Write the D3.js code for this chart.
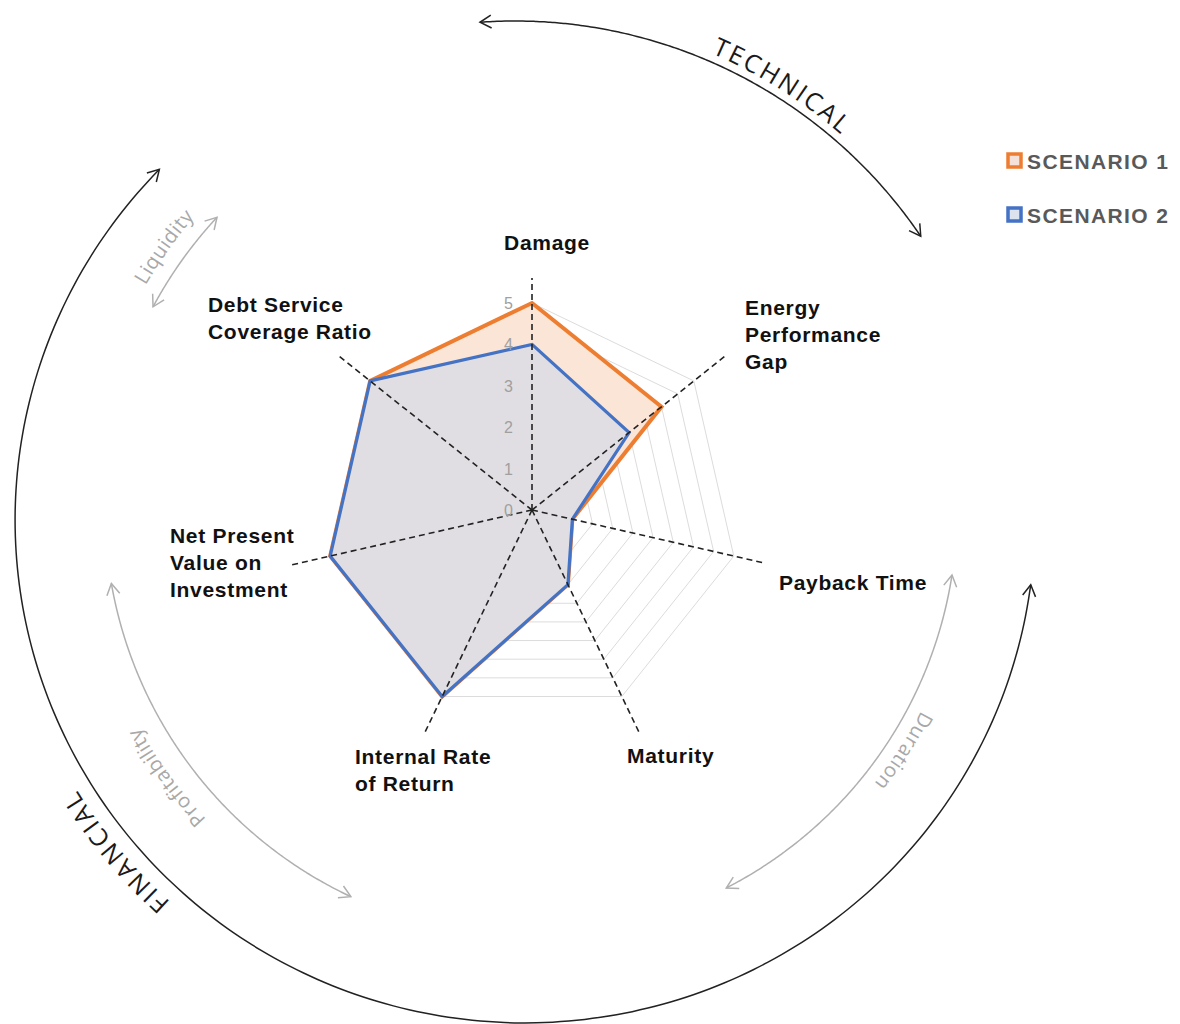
<!DOCTYPE html>
<html>
<head>
<meta charset="utf-8">
<script src="https://cdn.jsdelivr.net/npm/d3@7"></script>
<style>
  html, body { margin: 0; padding: 0; background: #ffffff; }
  svg { display: block; }
</style>
</head>
<body>
<svg id="chart" width="1180" height="1024"></svg>
<script>
// ---- data ----
const categories = [
  "Damage",
  "Energy Performance Gap",
  "Payback Time",
  "Maturity",
  "Internal Rate of Return",
  "Net Present Value on Investment",
  "Debt Service Coverage Ratio"
];
const categoryLines = [
  ["Damage"],
  ["Energy", "Performance", "Gap"],
  ["Payback Time"],
  ["Maturity"],
  ["Internal Rate", "of Return"],
  ["Net Present", "Value on", "Investment"],
  ["Debt Service", "Coverage Ratio"]
];
const scenario1 = [5, 4, 1, 2, 5, 5, 5];
const scenario2 = [4, 3, 1, 2, 5, 5, 5];
const seriesNames = ["SCENARIO 1", "SCENARIO 2"];
const tickValues = [0, 1, 2, 3, 4, 5];
const groupNames = ["TECHNICAL", "FINANCIAL"];
const subGroupNames = ["Liquidity", "Profitability", "Duration"];

// ---- layout ----
const svg = d3.select("#chart");
const cx = 532, cy = 510;
const maxValue = 5;
const r = d3.scaleLinear().domain([0, maxValue]).range([0, 207]);
const angle = d3.scaleLinear().domain([0, categories.length]).range([0, 2 * Math.PI]);
const colors = { s1: "#ED7D31", s2: "#4472C4" };

// polar point, angle measured clockwise from 12 o'clock
function pt(i, v) {
  const a = angle(i);
  return [cx + r(v) * Math.sin(a), cy - r(v) * Math.cos(a)];
}

const g = svg.append("g");

// grid heptagons every half unit
const gridLevels = d3.range(0.5, maxValue + 0.01, 0.5);
const ringLine = d3.line().curve(d3.curveLinearClosed);
g.append("g").selectAll("path")
  .data(gridLevels)
  .join("path")
  .attr("d", lv => ringLine(categories.map((c, i) => pt(i, lv))))
  .attr("fill", "none")
  .attr("stroke", "#dcdcdc")
  .attr("stroke-width", 1);

// series areas
const series = [
  { name: seriesNames[0], values: scenario1, fill: "#FBE5D6", stroke: colors.s1, width: 4 },
  { name: seriesNames[1], values: scenario2, fill: "#E0DEE2", stroke: colors.s2, width: 3.2 }
];
g.append("g").selectAll("path")
  .data(series)
  .join("path")
  .attr("d", s => ringLine(s.values.map((v, i) => pt(i, v))))
  .attr("fill", s => s.fill)
  .attr("stroke", s => s.stroke)
  .attr("stroke-width", s => s.width)
  .attr("stroke-linejoin", "miter");

// dashed spokes
const spokeLen = [232, 250, 236, 248, 246, 246, 248];
g.append("g").selectAll("line")
  .data(categories)
  .join("line")
  .attr("x1", cx).attr("y1", cy)
  .attr("x2", (c, i) => cx + spokeLen[i] * Math.sin(angle(i)))
  .attr("y2", (c, i) => cy - spokeLen[i] * Math.cos(angle(i)))
  .attr("stroke", "#222")
  .attr("stroke-width", 1.6)
  .attr("stroke-dasharray", "6,4");

// radial tick labels
g.append("g").selectAll("text")
  .data(tickValues)
  .join("text")
  .attr("x", cx - 19)
  .attr("y", v => cy - r(v) + 6)
  .attr("text-anchor", "end")
  .attr("font-family", "Liberation Sans, Arial, sans-serif")
  .attr("font-size", 16)
  .attr("fill", "#a0a0a0")
  .text(v => v);

// category labels
const labelPos = [
  { x: 547, y: 250, anchor: "middle" },
  { x: 745, y: 315, anchor: "start" },
  { x: 779, y: 590, anchor: "start" },
  { x: 627, y: 763, anchor: "start" },
  { x: 355, y: 764, anchor: "start" },
  { x: 170, y: 543, anchor: "start" },
  { x: 208, y: 312, anchor: "start" }
];
const labels = g.append("g").selectAll("text")
  .data(categoryLines)
  .join("text")
  .attr("x", (d, i) => labelPos[i].x)
  .attr("y", (d, i) => labelPos[i].y)
  .attr("text-anchor", (d, i) => labelPos[i].anchor)
  .attr("font-family", "Liberation Sans, Arial, sans-serif")
  .attr("font-weight", "bold")
  .attr("font-size", 21)
  .attr("letter-spacing", 0.7)
  .attr("fill", "#111");
labels.selectAll("tspan")
  .data((d, i) => d.map(t => ({ t, i })))
  .join("tspan")
  .attr("x", d => labelPos[d.i].x)
  .attr("dy", (d, k) => k === 0 ? 0 : 27)
  .text(d => d.t);

// ---- legend ----
const legend = svg.append("g").attr("transform", "translate(1008,154)");
const legItems = legend.selectAll("g")
  .data(series)
  .join("g")
  .attr("transform", (d, i) => `translate(0,${i * 54})`);
legItems.append("rect")
  .attr("x", 0).attr("y", 0).attr("width", 13).attr("height", 13)
  .attr("fill", (d, i) => i === 0 ? "#F4E2DA" : "#DCE2EE")
  .attr("stroke", d => d.stroke)
  .attr("stroke-width", 3.5);
legItems.append("text")
  .attr("x", 19).attr("y", 15)
  .attr("font-family", "Liberation Sans, Arial, sans-serif")
  .attr("font-weight", "bold")
  .attr("font-size", 21)
  .attr("letter-spacing", 1.4)
  .attr("fill", "#595959")
  .text(d => d.name);

// ---- surrounding group arcs ----
// elliptical arc sampled as a polyline; angles in degrees clockwise from 12 o'clock
const curve = d3.line().curve(d3.curveBasis);
function arcPoints(ox, oy, rx, ry, t0, t1) {
  const n = 120;
  return d3.range(n + 1).map(k => {
    const t = (t0 + (t1 - t0) * k / n) * Math.PI / 180;
    return [ox + rx * Math.sin(t), oy - ry * Math.cos(t)];
  });
}
// open chevron at the end of an arc, pointing along the travel direction
function arrowD(pts, atEnd) {
  const tip = atEnd ? pts[pts.length - 1] : pts[0];
  const prev = atEnd ? pts[pts.length - 2] : pts[1];
  const back = Math.atan2(prev[1] - tip[1], prev[0] - tip[0]);
  const len = 13, spread = 30 * Math.PI / 180;
  const p1 = [tip[0] + len * Math.cos(back + spread), tip[1] + len * Math.sin(back + spread)];
  const p2 = [tip[0] + len * Math.cos(back - spread), tip[1] + len * Math.sin(back - spread)];
  return `M${p1[0]},${p1[1]}L${tip[0]},${tip[1]}L${p2[0]},${p2[1]}`;
}

const outerArcs = [
  { name: groupNames[0], ox: 515, oy: 511, rx: 490, ry: 490, t0: -4.1, t1: 55.9, color: "#222",
    textOff: 8, textMid: 32.2, textSpan: 40, size: 25, ls: 2.6, textColor: "#1a1a1a" },
  { name: groupNames[1], ox: 525, oy: 520, rx: 510, ry: 503, t0: -45.8, t1: -262.6, color: "#222",
    textOff: 15, textMid: 230.8, textSpan: 40, size: 25, ls: 2.6, textColor: "#1a1a1a" },
  { name: subGroupNames[0], ox: 532, oy: 510, rx: 430, ry: 430, t0: 298.2, t1: 312.9, color: "#b0b0b0",
    textOff: 17, textMid: 305.6, textSpan: 30, size: 20, ls: 0.6, textColor: "#a8a8a8" },
  { name: subGroupNames[1], ox: 532, oy: 510, rx: 427, ry: 427, t0: 260.1, t1: 205.1, color: "#b0b0b0",
    textOff: 22, textMid: 233.8, textSpan: 30, size: 20, ls: 0.6, textColor: "#a8a8a8" },
  { name: subGroupNames[2], ox: 532, oy: 510, rx: 425, ry: 425, t0: 98.8, t1: 152.8, color: "#b0b0b0",
    textOff: 13, textMid: 123, textSpan: 30, size: 20, ls: 0.6, textColor: "#a8a8a8" }
];

const deco = svg.append("g").attr("fill", "none");
const defs = svg.append("defs");
outerArcs.forEach((d, i) => {
  const pts = arcPoints(d.ox, d.oy, d.rx, d.ry, d.t0, d.t1);
  deco.append("path").attr("d", curve(pts))
    .attr("stroke", d.color).attr("stroke-width", 1.5);
  deco.append("path").attr("d", arrowD(pts, true))
    .attr("stroke", d.color).attr("stroke-width", 1.5);
  deco.append("path").attr("d", arrowD(pts, false))
    .attr("stroke", d.color).attr("stroke-width", 1.5);

  // clockwise guide so the lettering sits outside with tops facing outward
  const id = "tp" + i;
  defs.append("path")
    .attr("id", id)
    .attr("d", curve(arcPoints(d.ox, d.oy, d.rx + d.textOff, d.ry + d.textOff,
      d.textMid - d.textSpan, d.textMid + d.textSpan)));
  svg.append("text")
    .attr("font-family", "Open Sans, DejaVu Sans, sans-serif")
    .attr("font-size", d.size)
    .attr("letter-spacing", d.ls)
    .attr("fill", d.textColor)
    .append("textPath")
    .attr("href", "#" + id)
    .attr("startOffset", "50%")
    .attr("text-anchor", "middle")
    .text(d.name);
});
</script>
</body>
</html>
